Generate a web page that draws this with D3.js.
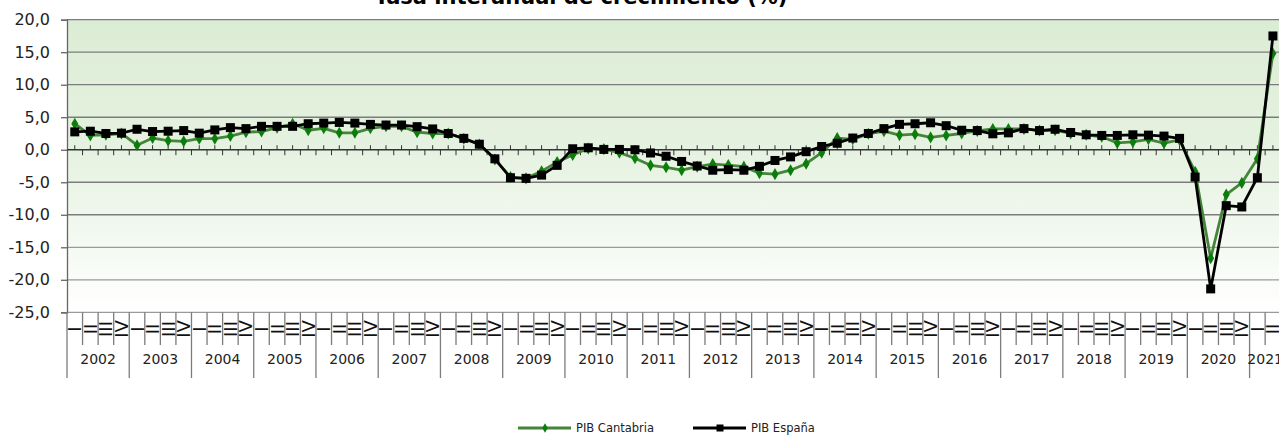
<!DOCTYPE html>
<html><head><meta charset="utf-8">
<script src="https://cdn.jsdelivr.net/npm/d3@7/dist/d3.min.js"></script>
<style>body{margin:0;background:#fff;}svg{display:block;}</style>
</head><body>
<svg id="c" width="1279" height="437"></svg>
<script>
const title = "Tasa interanual de crecimiento (%)";
const years = ["2002","2003","2004","2005","2006","2007","2008","2009","2010","2011","2012","2013","2014","2015","2016","2017","2018","2019","2020","2021"];
const quarterLabels = ["I","II","III","IV"];
const lastYearQuarters = 2;
const yTicks = [-25,-20,-15,-10,-5,0,5,10,15,20];
const seriesNames = ["PIB Cantabria","PIB España"];
const cantabria = [4.0,2.2,2.3,2.5, 0.7,1.8,1.4,1.3, 1.7,1.7,2.1,2.7, 2.8,3.4,4.0,3.0, 3.3,2.6,2.6,3.3, 3.6,3.6,2.7,2.5, 2.5,1.7,0.8,-1.5,
  -4.2,-4.4,-3.3,-1.9, -0.8,0.2,0.1,-0.45, -1.3,-2.4,-2.7,-3.15, -2.6,-2.2,-2.35,-2.6, -3.6,-3.75,-3.15,-2.15, -0.45,1.8,1.6,2.45,
  2.85,2.25,2.4,1.9, 2.2,2.5,2.9,3.2, 3.2,3.2,2.95,3.0, 2.5,2.3,2.0,1.05, 1.2,1.6,1.0,1.5, -3.4,-16.7,-6.9,-5.1, -1.4,14.8];
const espana = [2.75,2.85,2.5,2.55, 3.15,2.8,2.85,2.95, 2.55,3.05,3.4,3.25, 3.6,3.6,3.6,4.0, 4.1,4.2,4.1,3.9, 3.8,3.8,3.55,3.2, 2.5,1.75,0.85,-1.4,
  -4.3,-4.4,-3.9,-2.4, 0.15,0.3,0.05,0.05, 0.0,-0.5,-1.0,-1.8, -2.5,-3.15,-3.05,-3.15, -2.55,-1.65,-1.1,-0.3, 0.5,1.0,1.8,2.5,
  3.25,3.9,4.0,4.15, 3.7,3.0,2.95,2.45, 2.6,3.25,2.95,3.15, 2.65,2.3,2.2,2.2, 2.3,2.25,2.1,1.75, -4.2,-21.4,-8.6,-8.8, -4.3,17.5];

// categories
const cats = [];
years.forEach((y, yi) => {
  const nq = yi === years.length - 1 ? lastYearQuarters : 4;
  for (let q = 0; q < nq; q++) cats.push({year: y, q: quarterLabels[q], yi, qi: q});
});

const svg = d3.select("#c");
const L = 67, R = 1280.7, T = 19.7, B = 312.3;
const x = d3.scaleBand().domain(d3.range(cats.length)).range([L, R]).padding(0);
const bw = x.bandwidth();
const cx = i => x(i) + bw / 2;
const y = d3.scaleLinear().domain([-25, 20]).range([B, T]);
const fmt = v => d3.format(".1f")(v).replace(".", ",").replace("−", "-");

// gradient background
const defs = svg.append("defs");
const g = defs.append("linearGradient").attr("id","bg").attr("x1",0).attr("y1",0).attr("x2",0).attr("y2",1);
g.append("stop").attr("offset","0%").attr("stop-color","#dbecd4");
g.append("stop").attr("offset","45%").attr("stop-color","#e6f2e1");
g.append("stop").attr("offset","100%").attr("stop-color","#ffffff");
defs.append("clipPath").attr("id","cell").append("rect").attr("x",-bw/2).attr("y",-40).attr("width",bw).attr("height",80);

svg.append("rect").attr("x",L).attr("y",T).attr("width",R-L).attr("height",B-T).attr("fill","url(#bg)");

// gridlines
svg.append("g").selectAll("line").data(yTicks.filter(v => v !== 0)).join("line")
  .attr("x1",L).attr("x2",R).attr("y1",d=>y(d)).attr("y2",d=>y(d))
  .attr("stroke",d => d <= -15 ? "#9a9a9a" : "#7c7c7c").attr("stroke-width",1.3);

// y axis
const ya = svg.append("g").attr("transform",`translate(${L},0)`)
  .call(d3.axisLeft(y).tickValues(yTicks).tickSize(6).tickPadding(11).tickFormat(fmt));
ya.select(".domain").attr("stroke","#666").attr("stroke-width",1.3);
ya.selectAll(".tick line").attr("stroke","#666").attr("stroke-width",1.3);
ya.selectAll("text").attr("font-family","DejaVu Sans").attr("font-size",16).attr("fill","#222");

// zero line with ticks
const y0 = y(0);
svg.append("line").attr("x1",L).attr("x2",R).attr("y1",y0).attr("y2",y0).attr("stroke","#333").attr("stroke-width",1.3);
svg.append("g").selectAll("line").data(d3.range(cats.length)).join("line")
  .attr("x1",i=>cx(i)).attr("x2",i=>cx(i)).attr("y1",y0-4.5).attr("y2",y0).attr("stroke","#333").attr("stroke-width",1);
svg.append("g").selectAll("line").data(d3.range(cats.length)).join("line")
  .attr("x1",i=>x(i)+bw).attr("x2",i=>x(i)+bw).attr("y1",y0).attr("y2",y0+5.5).attr("stroke","#333").attr("stroke-width",1);

// category axis: quarter row
const qTop = B, qBot = 345, yBot = 378;
svg.append("g").selectAll("line").data(d3.range(cats.length + 1)).join("line")
  .attr("x1",i=> i < cats.length ? x(i) : R).attr("x2",i=> i < cats.length ? x(i) : R)
  .attr("y1",qTop).attr("y2",i => (i === 0 || (i < cats.length && cats[i].qi === 0)) ? yBot : qBot)
  .attr("stroke","#7c7c7c").attr("stroke-width",1.3);
const ql = svg.append("g").selectAll("g").data(cats).join("g")
  .attr("transform",(d,i)=>`translate(${cx(i)},329)`).attr("clip-path","url(#cell)");
ql.append("text").attr("transform","rotate(-90)").attr("text-anchor","middle").attr("dominant-baseline","central")
  .attr("font-family","DejaVu Sans").attr("font-size",18).attr("fill","#111").text(d=>d.q);

// year labels
svg.append("g").selectAll("text").data(years).join("text")
  .attr("x",(d,yi) => { const idx = cats.map((c,i)=>i).filter(i=>cats[i].yi===yi); return (x(idx[0]) + x(idx[idx.length-1]) + bw)/2; })
  .attr("y",359).attr("text-anchor","middle").attr("dominant-baseline","central")
  .attr("font-family","DejaVu Sans").attr("font-size",14).attr("fill","#222").text(d=>d);

// series
const line = d3.line().x((d,i)=>cx(i)).y(d=>y(d));
const greenLine = "#45853a", greenMark = "#0b7d0b";
svg.append("path").datum(cantabria).attr("d",line).attr("fill","none").attr("stroke",greenLine).attr("stroke-width",2.8).attr("stroke-linejoin","round");
const diamond = d3.symbol().type(d3.symbolDiamond).size(42);
svg.append("g").selectAll("path").data(cantabria).join("path")
  .attr("transform",(d,i)=>`translate(${cx(i)},${y(d)})`).attr("d",diamond).attr("fill",greenMark);
svg.append("path").datum(espana).attr("d",line).attr("fill","none").attr("stroke","#000").attr("stroke-width",2.8).attr("stroke-linejoin","round");
svg.append("g").selectAll("rect").data(espana).join("rect")
  .attr("x",(d,i)=>cx(i)-4.5).attr("y",d=>y(d)-4.5).attr("width",9).attr("height",9).attr("fill","#000");

// title
svg.append("text").attr("x",581).attr("y",3.5).attr("text-anchor","middle")
  .attr("font-family","DejaVu Sans").attr("font-weight","bold").attr("font-size",21).attr("fill","#000").text(title);

// legend
const leg = [{name:seriesNames[0],x:518,color:greenLine,mark:"d"},{name:seriesNames[1],x:693,color:"#000",mark:"s"}];
const lg = svg.append("g").selectAll("g").data(leg).join("g").attr("transform",d=>`translate(${d.x},428)`);
lg.append("line").attr("x1",0).attr("x2",53).attr("stroke",d=>d.color).attr("stroke-width",2.8);
lg.filter(d=>d.mark==="d").append("path").attr("transform","translate(27,0)").attr("d",d3.symbol().type(d3.symbolDiamond).size(26)).attr("fill",greenMark);
lg.filter(d=>d.mark==="s").append("rect").attr("x",23.5).attr("y",-3.5).attr("width",7).attr("height",7).attr("fill","#000");
lg.append("text").attr("x",58).attr("y",0).attr("dominant-baseline","central")
  .attr("font-family","DejaVu Sans").attr("font-size",11.5).attr("fill","#222").text(d=>d.name);
</script>
</body></html>
